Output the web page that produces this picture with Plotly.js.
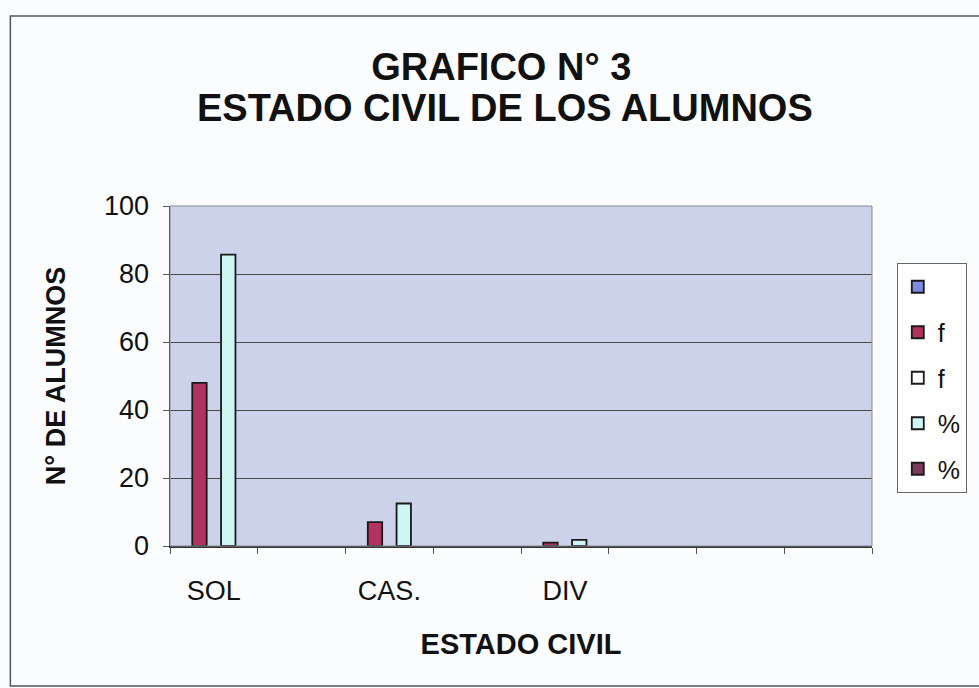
<!DOCTYPE html>
<html>
<head>
<meta charset="utf-8">
<script src="https://cdn.plot.ly/plotly-3.0.1.min.js"></script>
<style>html,body{margin:0;padding:0;background:#fbfcfe;}#chart{width:979px;height:688px;}</style>
</head>
<body>
<div id="chart"></div>
<script>
// Categories (8 slots, labels shown on every other slot as in the original)
const categories = ['c1', 'c2', 'c3', 'c4', 'c5', 'c6', 'c7', 'c8'];
const tickLabels = ['SOL', '', 'CAS.', '', 'DIV', '', '', ''];
const seriesNames = [' ', 'f', 'f', '%', '%'];
const seriesBlue = [null, null, null, null, null, null, null, null];
const seriesF = [48, null, 7, null, 1, null, null, null];
const seriesFWhite = [null, null, null, null, null, null, null, null];
const seriesPct = [85.7, null, 12.5, null, 1.8, null, null, null];
const seriesPctDark = [null, null, null, null, null, null, null, null];
const seriesColors = ['#7d8ae0', '#b2335f', '#ffffff', '#cff4f4', '#7a3a5c'];

const allSeries = [seriesBlue, seriesF, seriesFWhite, seriesPct, seriesPctDark];
const traces = allSeries.map((vals, i) => ({
  type: 'bar',
  name: seriesNames[i],
  x: categories,
  y: vals,
  legendgroup: 'g' + i,
  marker: {color: seriesColors[i], line: {color: '#1a1a1a', width: 1.8}},
  hoverinfo: 'skip'
}));

const font = 'Liberation Sans, Arial, sans-serif';
const layout = {
  width: 979, height: 688,
  paper_bgcolor: '#fbfcfe',
  plot_bgcolor: '#cbd2ea',
  margin: {l: 170, r: 101, t: 206, b: 142},
  barmode: 'group',
  bargap: 0.18,
  bargroupgap: 0,
  showlegend: true,
  title: {
    text: '<b>GRAFICO N° 3</b>',
    font: {family: font, size: 38, color: '#111'},
    x: 0.512, xanchor: 'center', y: 1 - 67 / 688, yanchor: 'middle', xref: 'container', yref: 'container'
  },
  annotations: [{
    text: '<b>ESTADO CIVIL DE LOS ALUMNOS</b>',
    font: {family: font, size: 38, color: '#111'},
    xref: 'paper', yref: 'paper',
    x: (508 - 170) / 708, y: (546 - 108) / 340,
    xanchor: 'center', yanchor: 'middle', showarrow: false
  }],
  xaxis: {
    type: 'category',
    tickmode: 'array',
    tickvals: categories,
    ticktext: tickLabels,
    tickson: 'boundaries',
    ticks: 'outside', ticklen: 6, tickcolor: '#555', tickwidth: 1,
    showgrid: false,
    showline: true, linecolor: '#333', linewidth: 1.5,
    tickfont: {family: font, size: 27, color: '#111'},
    ticklabelstandoff: 20,
    title: {text: '<b>ESTADO CIVIL</b>', font: {family: font, size: 29, color: '#111'}, standoff: 29},
    fixedrange: true
  },
  yaxis: {
    range: [0, 100],
    dtick: 20,
    ticks: 'outside', ticklen: 6, tickcolor: '#555', tickwidth: 1,
    showgrid: true, gridcolor: '#4a4a4a', gridwidth: 1,
    zeroline: false,
    showline: true, linecolor: '#333', linewidth: 1.5,
    tickfont: {family: font, size: 27, color: '#111'},
    ticklabelstandoff: 8,
    title: {text: '<b>N° DE ALUMNOS</b>', font: {family: font, size: 27, color: '#111'}, standoff: 30},
    fixedrange: true
  },
  legend: {
    x: (903 - 170) / 708, xanchor: 'left',
    y: (546 - 263) / 340, yanchor: 'top',
    bgcolor: '#ffffff',
    bordercolor: '#666', borderwidth: 1,
    font: {family: font, size: 25, color: '#111'},
    tracegroupgap: 10,
    traceorder: 'grouped'
  },
  shapes: [
    {type: 'rect', xref: 'paper', yref: 'paper', x0: 0, x1: 1, y0: 0, y1: 1,
     line: {color: '#8a8a8a', width: 1}, layer: 'above'},
    {type: 'rect', xref: 'paper', yref: 'paper',
     x0: (9 - 170) / 708, x1: (1060 - 170) / 708, y0: (546 - 686) / 340, y1: (546 - 16) / 340,
     line: {color: '#555', width: 1.5}, layer: 'below'}
  ]
};

Plotly.newPlot('chart', traces, layout, {displayModeBar: false, staticPlot: true});
</script>
</body>
</html>
